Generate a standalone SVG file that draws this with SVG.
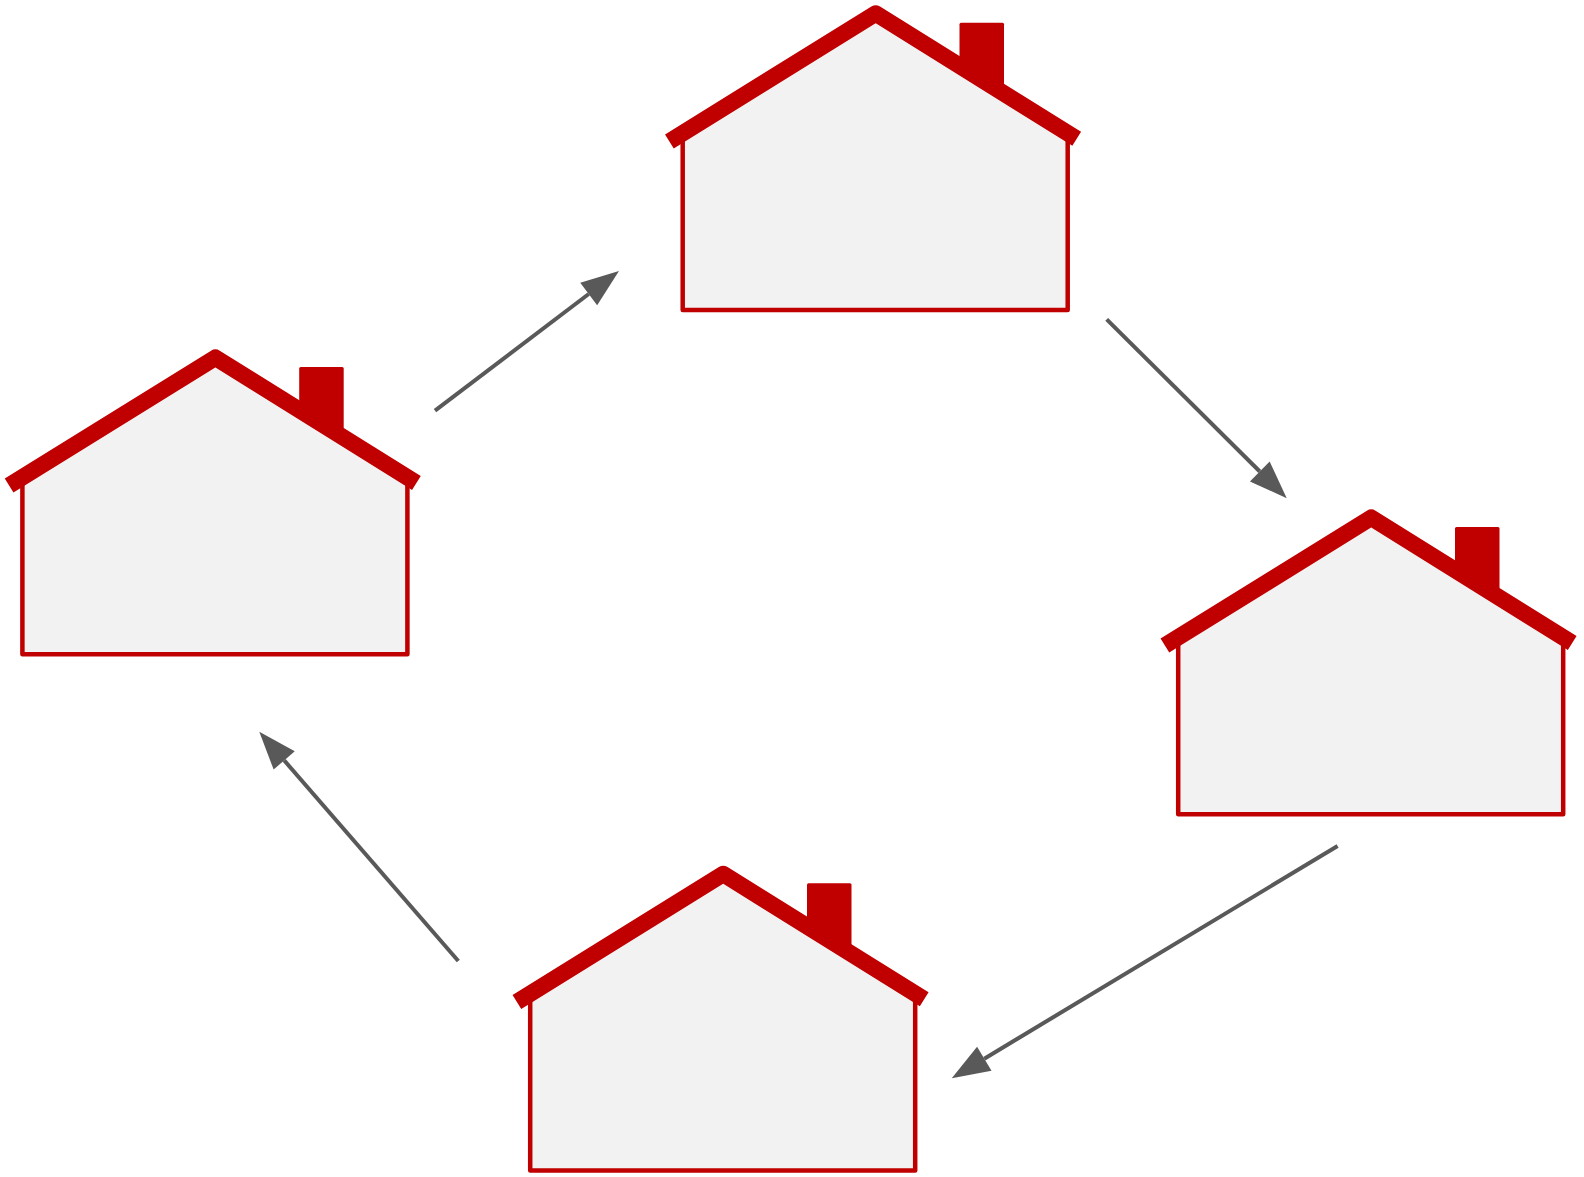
<svg xmlns="http://www.w3.org/2000/svg" width="1584" height="1177" viewBox="0 0 1584 1177">
  <style>
    .chimney { fill: #c00000; }
    .body { fill: #f2f2f2; stroke: #c00000; stroke-width: 4.5; stroke-linejoin: round; }
    .roof { fill: none; stroke: #c00000; stroke-width: 16.5; stroke-linecap: butt; stroke-linejoin: round; }
    .conn { fill: none; stroke: #595959; stroke-width: 4; stroke-linecap: butt; }
  </style>
  <defs>
    <marker id="arrow" markerUnits="userSpaceOnUse" markerWidth="40" markerHeight="30" refX="0" refY="14" orient="auto" overflow="visible">
      <path d="M0,0 L38,14 L0,28 Z" fill="#595959"/>
    </marker>
  </defs>
  <rect x="0" y="0" width="1584" height="1177" fill="#ffffff"/>

  <g id="house-top" transform="translate(0,0)">
    <rect class="chimney" x="959.5" y="22.7" width="44.5" height="75" rx="1.5"/>
    <polygon class="body" points="682.7,133.1 875.7,13.5 1067.7,133.2 1067.7,310 682.7,310"/>
    <polyline class="roof" points="669.4,141.4 875.7,13.5 1076.7,138.8"/>
  </g>

  <g id="house-right" transform="translate(495.5,504.2)">
    <rect class="chimney" x="959.5" y="22.7" width="44.5" height="75" rx="1.5"/>
    <polygon class="body" points="682.7,133.1 875.7,13.5 1067.7,133.2 1067.7,310 682.7,310"/>
    <polyline class="roof" points="669.4,141.4 875.7,13.5 1076.7,138.8"/>
  </g>

  <g id="house-bottom" transform="translate(-152.5,860.5)">
    <rect class="chimney" x="959.5" y="22.7" width="44.5" height="75" rx="1.5"/>
    <polygon class="body" points="682.7,133.1 875.7,13.5 1067.7,133.2 1067.7,310 682.7,310"/>
    <polyline class="roof" points="669.4,141.4 875.7,13.5 1076.7,138.8"/>
  </g>

  <g id="house-left" transform="translate(-660.3,344.2)">
    <rect class="chimney" x="959.5" y="22.7" width="44.5" height="75" rx="1.5"/>
    <polygon class="body" points="682.7,133.1 875.7,13.5 1067.7,133.2 1067.7,310 682.7,310"/>
    <polyline class="roof" points="669.4,141.4 875.7,13.5 1076.7,138.8"/>
  </g>

  <g id="connectors">
    <line class="conn" x1="435" y1="410.7" x2="588.7" y2="294" marker-end="url(#arrow)"/>
    <line class="conn" x1="1106.7" y1="319.3" x2="1259.8" y2="471.5" marker-end="url(#arrow)"/>
    <line class="conn" x1="1337.6" y1="846" x2="984.3" y2="1058.7" marker-end="url(#arrow)"/>
    <line class="conn" x1="458.3" y1="961" x2="284.2" y2="760.4" marker-end="url(#arrow)"/>
  </g>
</svg>
